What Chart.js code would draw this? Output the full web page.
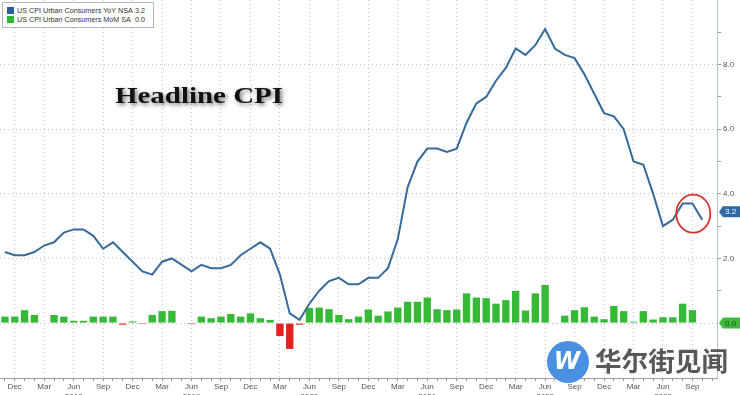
<!DOCTYPE html>
<html>
<head>
<meta charset="utf-8">
<script src="https://cdn.jsdelivr.net/npm/chart.js@4.4.0/dist/chart.umd.min.js"></script>
<style>
  html, body { margin: 0; padding: 0; background: #fff; }
  #wrap { position: relative; width: 740px; height: 395px; overflow: hidden; }
  #legend {
    position: absolute; left: 2px; top: 2px; width: 152px; height: 26px;
    border: 1px solid #b8b8b8; background: #fff; box-sizing: border-box;
    font: 7.2px "Liberation Sans", Arial, sans-serif; color: #333;
    padding: 3px 0 0 4px;
  }
  #legend .row { display: flex; align-items: center; height: 9px; }
  #legend .sw { width: 7px; height: 7px; margin-right: 3px; flex-shrink: 0; }
  #legend .name { width: 118px; white-space: nowrap; flex-shrink: 0; }
</style>
</head>
<body>
<div id="wrap">
  <canvas id="cpi" width="740" height="395"></canvas>
  <div id="legend"></div>
</div>
<script>
// 月ラベル (2017年11月〜2023年11月)
const monthNames = ['Jan', 'Feb', 'Mar', 'Apr', 'May', 'Jun', 'Jul', 'Aug', 'Sep', 'Oct', 'Nov', 'Dec'];
const quarterMonths = ['Dec', 'Mar', 'Jun', 'Sep'];
const firstYear = 2017;
const firstMonth = 10;
const monthCount = 73;

// 前年比 YoY NSA
const yoy = [
    2.2, 2.1,
    2.1, 2.2, 2.4, 2.5, 2.8, 2.9, 2.9, 2.7, 2.3, 2.5, 2.2, 1.9,
    1.6, 1.5, 1.9, 2.0, 1.8, 1.6, 1.8, 1.7, 1.7, 1.8, 2.1, 2.3,
    2.5, 2.3, 1.5, 0.3, 0.1, 0.6, 1.0, 1.3, 1.4, 1.2, 1.2, 1.4,
    1.4, 1.7, 2.6, 4.2, 5.0, 5.4, 5.4, 5.3, 5.4, 6.2, 6.8, 7.0,
    7.5, 7.9, 8.5, 8.3, 8.6, 9.1, 8.5, 8.3, 8.2, 7.7, 7.1, 6.5,
    6.4, 6.0, 5.0, 4.9, 4.0, 3.0, 3.2, 3.7, 3.7, 3.2
];

// 前月比 MoM SA
const mom = [
    0.2, 0.2,
    0.4, 0.25, 0.0, 0.25, 0.2, 0.07, 0.07, 0.2, 0.2, 0.2, -0.05, 0.05,
    -0.03, 0.25, 0.37, 0.38, 0.0, -0.03, 0.2, 0.15, 0.2, 0.28, 0.2, 0.3,
    0.15, 0.1, -0.4, -0.8, -0.05, 0.47, 0.48, 0.43, 0.25, 0.12, 0.2, 0.42,
    0.23, 0.36, 0.48, 0.66, 0.66, 0.79, 0.43, 0.4, 0.42, 0.92, 0.79, 0.77,
    0.6, 0.71, 1.0, 0.39, 0.92, 1.18, -0.02, 0.23, 0.4, 0.49, 0.2, 0.12,
    0.53, 0.37, 0.04, 0.37, 0.11, 0.18, 0.18, 0.6, 0.4, 0.0
];

// 右軸の目盛り
const yLabelValues = [2, 4, 6, 8];
const yMin = -1.7;
const yMax = 10;

const seriesNames = ['US CPI Urban Consumers YoY NSA', 'US CPI Urban Consumers MoM SA'];
const lineColor = '#366a9b';
const upColor = '#36b936';
const downColor = '#e42121';

const labels = [];
for (let i = 0; i < monthCount; i++) {
    const m = (firstMonth + i) % 12;
    const yr = firstYear + Math.floor((firstMonth + i) / 12);
    labels.push(monthNames[m] + ' ' + yr);
}

function isQuarter(index) {
    if (index == null || !labels[index]) return false;
    return quarterMonths.includes(labels[index].split(' ')[0]);
}

// 凡例
const lastYoy = yoy[yoy.length - 1];
const lastMom = mom[mom.length - 1];
document.getElementById('legend').innerHTML =
    '<div class="row"><span class="sw" style="background:#2a5e9c"></span><span class="name">' + seriesNames[0] + '</span><span>' + lastYoy.toFixed(1) + '</span></div>' +
    '<div class="row"><span class="sw" style="background:#2fb52f"></span><span class="name">' + seriesNames[1] + '</span><span>' + lastMom.toFixed(1) + '</span></div>';

// 右端のタグ
function drawTag(ctx, x, y, text, bg, fg) {
    const h = 11;
    ctx.save();
    ctx.fillStyle = bg;
    ctx.beginPath();
    ctx.moveTo(x, y);
    ctx.lineTo(x + 4, y - h / 2);
    ctx.lineTo(740, y - h / 2);
    ctx.lineTo(740, y + h / 2);
    ctx.lineTo(x + 4, y + h / 2);
    ctx.closePath();
    ctx.fill();
    ctx.fillStyle = fg;
    ctx.font = '8px "Liberation Sans", Arial, sans-serif';
    ctx.textBaseline = 'middle';
    ctx.fillText(text, x + 6, y + 0.5);
    ctx.restore();
}

const decoPlugin = {
    id: 'deco',
    afterDatasetsDraw(chart) {
        const ctx = chart.ctx;
        // タイトル
        ctx.save();
        ctx.font = 'bold 23px "Liberation Serif", "Times New Roman", serif';
        const w = ctx.measureText('Headline CPI').width;
        ctx.translate(115, 103);
        ctx.scale(168 / w, 1);
        ctx.shadowColor = 'rgba(0,0,0,0.55)';
        ctx.shadowBlur = 4;
        ctx.shadowOffsetX = 2;
        ctx.shadowOffsetY = 2;
        ctx.fillStyle = '#111';
        ctx.fillText('Headline CPI', 0, 0);
        ctx.restore();
    },
    afterDraw(chart) {
        const ctx = chart.ctx;
        const x = chart.scales.x;
        const y = chart.scales.y;
        const last = yoy.length - 1;
        const px = x.getPixelForValue(last);
        const py = y.getPixelForValue(yoy[last]);

        // 赤い丸
        ctx.save();
        ctx.strokeStyle = '#d93030';
        ctx.lineWidth = 1.8;
        ctx.beginPath();
        ctx.ellipse(px - 9, py - 6, 17, 19, 0, 0, Math.PI * 2);
        ctx.stroke();
        ctx.restore();

        drawTag(ctx, chart.chartArea.right + 2, py - 8, lastYoy.toFixed(1), '#2f6aa6', '#fff');
        drawTag(ctx, chart.chartArea.right + 2, y.getPixelForValue(lastMom), lastMom.toFixed(1), '#3dbb3d', '#1d4a1d');

        // ウォーターマーク
        ctx.save();
        ctx.fillStyle = '#4a90e2';
        ctx.beginPath();
        ctx.arc(568, 362, 21, 0, Math.PI * 2);
        ctx.fill();
        ctx.fillStyle = '#fff';
        ctx.font = 'italic bold 24px "DejaVu Sans", sans-serif';
        ctx.textAlign = 'center';
        ctx.textBaseline = 'middle';
        ctx.fillText('W', 567, 363);
        ctx.font = 'bold 26px "Noto Sans CJK SC", sans-serif';
        ctx.textAlign = 'left';
        ctx.textBaseline = 'alphabetic';
        const tw = ctx.measureText('华尔街见闻').width;
        ctx.translate(595, 371);
        ctx.scale(133 / tw, 1);
        ctx.fillStyle = 'rgba(70,70,70,0.9)';
        ctx.fillText('华尔街见闻', 0, 0);
        ctx.restore();
    }
};

new Chart(document.getElementById('cpi'), {
    type: 'bar',
    data: {
        labels: labels,
        datasets: [{
            type: 'line',
            label: seriesNames[0],
            data: yoy,
            borderColor: lineColor,
            borderWidth: 2,
            pointRadius: 0,
            tension: 0,
            fill: false,
            order: 0
        }, {
            type: 'bar',
            label: seriesNames[1],
            data: mom,
            backgroundColor: mom.map(v => v < 0 ? downColor : upColor),
            barPercentage: 0.75,
            categoryPercentage: 1,
            order: 1
        }]
    },
    options: {
        responsive: false,
        devicePixelRatio: 1,
        animation: false,
        layout: { padding: 0 },
        plugins: {
            legend: { display: false },
            tooltip: { enabled: false }
        },
        scales: {
            x: {
                offset: true,
                grid: {
                    offset: false,
                    color: ctx => isQuarter(ctx.index) ? '#c4c4c4' : 'rgba(0,0,0,0)',
                    tickColor: '#9a9a9a',
                    tickLength: 3,
                    lineWidth: 1
                },
                border: { color: '#9a9a9a', dash: [1, 3] },
                ticks: {
                    autoSkip: false,
                    maxRotation: 0,
                    padding: 1,
                    color: '#555',
                    font: { family: '"Liberation Sans", Arial, sans-serif', size: 8 },
                    callback: function (value, index) {
                        const parts = labels[index].split(' ');
                        if (!quarterMonths.includes(parts[0])) return '';
                        if (parts[0] === 'Jun') return [parts[0], parts[1]];
                        return parts[0];
                    }
                },
                afterFit: scale => {
                    scale.height = 17;
                    scale.paddingLeft = 0;
                    scale.paddingRight = 0;
                }
            },
            y: {
                position: 'right',
                min: yMin,
                max: yMax,
                ticks: {
                    stepSize: 1,
                    padding: 2,
                    color: '#555',
                    font: { family: '"Liberation Sans", Arial, sans-serif', size: 8 },
                    callback: v => yLabelValues.includes(v) ? v.toFixed(1) : ''
                },
                grid: {
                    color: ctx => (ctx.tick && Number.isInteger(ctx.tick.value) && ctx.tick.value % 2 === 0 && ctx.tick.value >= 0 && ctx.tick.value < yMax) ? '#c4c4c4' : 'rgba(0,0,0,0)',
                    tickColor: ctx => (ctx.tick && Number.isInteger(ctx.tick.value) && ctx.tick.value > 0 && ctx.tick.value < yMax) ? '#8aa88a' : 'rgba(0,0,0,0)',
                    tickLength: 4
                },
                border: { color: '#b3cbb3', dash: [1, 3] },
                afterFit: scale => {
                    scale.width = 23;
                    scale.paddingTop = 0;
                    scale.paddingBottom = 0;
                }
            }
        }
    },
    plugins: [decoPlugin]
});
</script>
</body>
</html>
